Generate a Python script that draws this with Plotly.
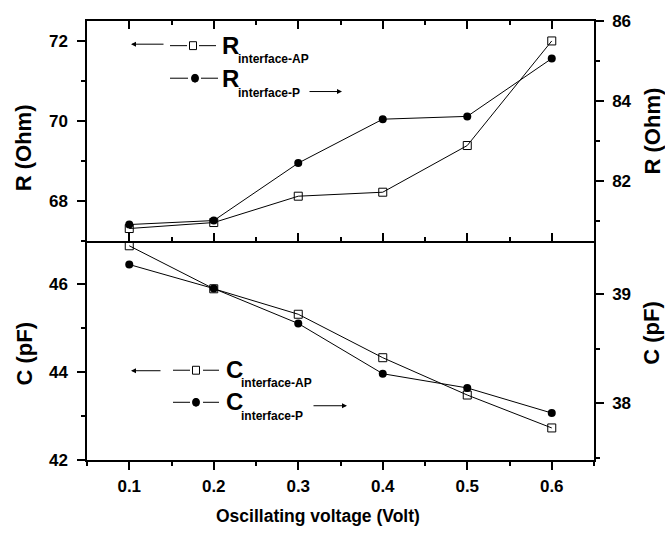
import plotly.graph_objects as go

# ---- data ----
voltage = [0.1, 0.2, 0.3, 0.4, 0.5, 0.6]
r_ap = [67.30, 67.45, 68.11, 68.21, 69.38, 72.00]   # left axis (Ohm)
r_p = [80.90, 81.00, 82.44, 83.54, 83.61, 85.06]    # right axis (Ohm)
c_ap = [46.88, 45.90, 45.32, 44.33, 43.48, 42.73]   # left axis (pF)
c_p = [39.27, 39.05, 38.73, 38.27, 38.14, 37.91]    # right axis (pF)

W, H = 665, 534
L, R, T, B = 87, 594, 15, 460

NARROW = "Liberation Sans Narrow, Arial Narrow, Liberation Sans, Arial"
ARIAL = "Liberation Sans, Arial"


def px(x, y):
    return (x - L) / (R - L), (B - y) / (B - T)


fig = go.Figure()
sq = dict(symbol="square-open", size=8, color="black", line=dict(width=1, color="black"))
ci = dict(symbol="circle", size=8, color="black")
ln = dict(color="black", width=1)

fig.add_trace(go.Scatter(x=voltage, y=r_ap, mode="lines+markers", marker=sq, line=ln,
                         xaxis="x", yaxis="y"))
fig.add_trace(go.Scatter(x=voltage, y=r_p, mode="lines+markers", marker=ci, line=ln,
                         xaxis="x", yaxis="y3"))
fig.add_trace(go.Scatter(x=voltage, y=c_ap, mode="lines+markers", marker=sq, line=ln,
                         xaxis="x2", yaxis="y2"))
fig.add_trace(go.Scatter(x=voltage, y=c_p, mode="lines+markers", marker=ci, line=ln,
                         xaxis="x2", yaxis="y4"))

tickfont = dict(family=NARROW, size=17, color="black", weight="bold")
common = dict(showline=True, linecolor="black", linewidth=1.5, showgrid=False,
              zeroline=False, tickcolor="black", tickwidth=1.5, ticklen=8,
              tickfont=tickfont)
xr = [0.05, 0.65]

fig.update_layout(
    width=W, height=H,
    margin=dict(l=L, r=W - R, t=T, b=H - B, pad=0),
    paper_bgcolor="white", plot_bgcolor="white",
    showlegend=False,
    xaxis=dict(common, range=xr, domain=[0, 1], anchor="y", ticks="inside",
               mirror="ticks", showticklabels=False, dtick=0.1, tick0=0.1,
               minor=dict(dtick=0.05, ticks="inside", ticklen=4, tickwidth=1.5, tickcolor="black")),
    xaxis2=dict(common, range=xr, domain=[0, 1], anchor="y2", ticks="outside",
                dtick=0.1, tick0=0.1, ticklabelstandoff=2,
                minor=dict(dtick=0.05, ticks="outside", ticklen=4, tickwidth=1.5, tickcolor="black")),
    xaxis3=dict(common, range=xr, overlaying="x2", anchor="y2", side="top",
                ticks="inside", showticklabels=False, dtick=0.1, tick0=0.1,
                minor=dict(dtick=0.05, ticks="inside", ticklen=4, tickwidth=1.5, tickcolor="black")),
    yaxis=dict(common, domain=[0.5, 1], range=[67.0, 72.5], anchor="x", ticks="outside",
               dtick=2, tick0=68, ticklabelstandoff=6,
               minor=dict(dtick=1, ticks="outside", ticklen=4, tickwidth=1.5, tickcolor="black")),
    yaxis3=dict(common, range=[80.5, 86.0], overlaying="y", side="right", anchor="x",
                ticks="outside", dtick=2, tick0=82, ticklabelstandoff=5,
                minor=dict(dtick=1, ticks="outside", ticklen=4, tickwidth=1.5, tickcolor="black")),
    yaxis2=dict(common, domain=[0, 0.5], range=[42.0, 47.0], anchor="x2", ticks="outside",
                dtick=2, tick0=42, ticklabelstandoff=6,
                minor=dict(dtick=1, ticks="outside", ticklen=4, tickwidth=1.5, tickcolor="black")),
    yaxis4=dict(common, range=[37.48, 39.49], overlaying="y2", side="right", anchor="x2",
                ticks="outside", dtick=1, tick0=38, ticklabelstandoff=5,
                minor=dict(dtick=0.5, ticks="outside", ticklen=4, tickwidth=1.5, tickcolor="black")),
)

ann = []
shapes = []


def text(x, y, s, size, family, angle=0, xanchor="center"):
    u, v = px(x, y)
    ann.append(dict(x=u, y=v, xref="paper", yref="paper", text=s, showarrow=False,
                    textangle=angle, xanchor=xanchor, yanchor="middle",
                    font=dict(family=family, size=size, color="black", weight="bold")))


def arrow(xh, yh, xt):
    u, v = px(xh, yh)
    ann.append(dict(x=u, y=v, xref="paper", yref="paper", text="", showarrow=True,
                    ax=xt - xh, ay=0, arrowhead=2, arrowsize=1, arrowwidth=1,
                    arrowcolor="black"))


def seg(x0, x1, y):
    u0, v = px(x0, y)
    u1, _ = px(x1, y)
    shapes.append(dict(type="line", xref="paper", yref="paper", x0=u0, x1=u1, y0=v, y1=v,
                       line=dict(color="black", width=1)))


def marker(x, y, kind):
    u0, v0 = px(x - 3.5, y + 4)
    u1, v1 = px(x + 3.5, y - 4)
    if kind == "sq":
        shapes.append(dict(type="rect", xref="paper", yref="paper", x0=u0, x1=u1, y0=v0, y1=v1,
                           line=dict(color="black", width=1), fillcolor="white"))
    else:
        shapes.append(dict(type="circle", xref="paper", yref="paper", x0=u0, x1=u1, y0=v0, y1=v1,
                           line=dict(color="black", width=1), fillcolor="black"))


# axis titles
text(23, 144, "R (Ohm)", 22, ARIAL, -90)
text(652, 127, "R (Ohm)", 22, ARIAL, -90)
text(24, 352, "C (pF)", 22, ARIAL, -90)
text(652, 331, "C (pF)", 22, ARIAL, -90)
text(318, 517, "Oscillating voltage (Volt)", 17.5, NARROW)

# legend - top panel
arrow(131, 38.5, 165)
seg(170, 187, 40); marker(193, 40, "sq"); seg(199, 216, 40)
text(220, 40, "R", 24, ARIAL, xanchor="left")
text(236, 54, "interface-AP", 12, NARROW, xanchor="left")
seg(170, 188, 73); marker(195, 73, "ci"); seg(201, 218, 73)
text(220, 73, "R", 24, ARIAL, xanchor="left")
text(236, 88, "interface-P", 12, NARROW, xanchor="left")
arrow(342, 86.5, 308)

# legend - bottom panel
arrow(131, 369.5, 162)
seg(173, 190, 369); marker(196, 369, "sq"); seg(203, 219, 369)
text(224, 368, "C", 24, ARIAL, xanchor="left")
text(239, 382, "interface-AP", 12, NARROW, xanchor="left")
seg(173, 190, 401.5); marker(196, 401.5, "ci"); seg(203, 219, 401.5)
text(224, 401, "C", 24, ARIAL, xanchor="left")
text(239, 415, "interface-P", 12, NARROW, xanchor="left")
arrow(347, 405, 312)

fig.update_layout(annotations=ann, shapes=shapes)
fig.write_html("out.html")
